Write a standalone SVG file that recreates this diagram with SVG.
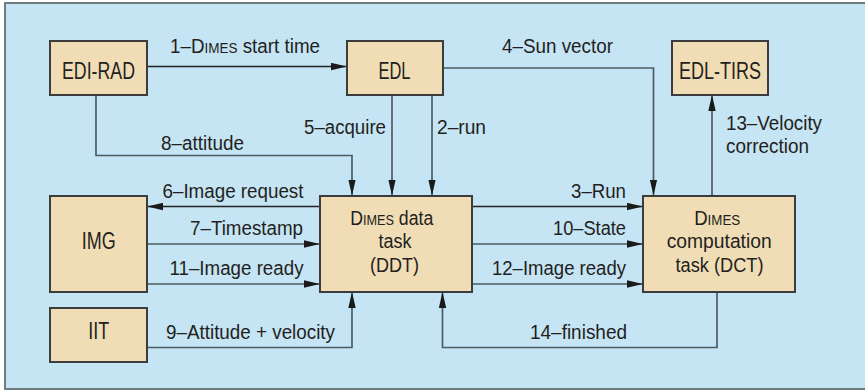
<svg xmlns="http://www.w3.org/2000/svg" width="865" height="392" viewBox="0 0 865 392">
<style>
.bg{fill:#c5e4f4;stroke:#6f7c82;stroke-width:2}
.box{fill:#f0ddb5;stroke:#3c3c3c;stroke-width:2}
.nt{font-family:"Liberation Sans",Arial,sans-serif;font-size:23px;fill:#231f20;text-anchor:middle}
.nm{font-size:19.5px}
.lb{font-family:"Liberation Sans",Arial,sans-serif;font-size:19.5px;fill:#231f20}
.sc{font-size:14px}
.c{fill:none;stroke:#4d5c62;stroke-width:1.7}
.k{stroke:#222}
</style>
<defs>
<marker id="ah" viewBox="0 0 16 8" refX="16" refY="4" markerWidth="16" markerHeight="8" markerUnits="userSpaceOnUse" orient="auto">
<path d="M0,0.3 L16,4 L0,7.7 Z" fill="#1a1a1a"/>
</marker>
</defs>
<rect class="bg" x="5" y="3" width="870" height="386"/>
<g id="connectors">
<path class="c k" d="M147,66.5 H347" marker-end="url(#ah)"/>
<path class="c" d="M443,68 H653.5 V195.5" marker-end="url(#ah)"/>
<path class="c" d="M392,95 V195.5" marker-end="url(#ah)"/>
<path class="c" d="M432,95 V195.5" marker-end="url(#ah)"/>
<path class="c" d="M96,95 V155.5 H352 V195.5" marker-end="url(#ah)"/>
<path class="c" d="M712,195.5 V95" marker-end="url(#ah)"/>
<path class="c k" d="M320,206.5 H147" marker-end="url(#ah)"/>
<path class="c" d="M147,244 H320" marker-end="url(#ah)"/>
<path class="c" d="M147,284 H320" marker-end="url(#ah)"/>
<path class="c" d="M147,347.5 H352 V292" marker-end="url(#ah)"/>
<path class="c k" d="M472,206.5 H643" marker-end="url(#ah)"/>
<path class="c" d="M472,244 H643" marker-end="url(#ah)"/>
<path class="c" d="M472,284 H643" marker-end="url(#ah)"/>
<path class="c" d="M717,292 V347.5 H442.5 V292" marker-end="url(#ah)"/>
<text class="lb" x="170" y="53.3" textLength="150" lengthAdjust="spacingAndGlyphs">1–D<tspan class="sc">IMES</tspan> start time</text>
<text class="lb" x="502" y="53.3" textLength="111" lengthAdjust="spacingAndGlyphs">4–Sun vector</text>
<text class="lb" x="304" y="134" textLength="82" lengthAdjust="spacingAndGlyphs">5–acquire</text>
<text class="lb" x="437" y="134" textLength="49" lengthAdjust="spacingAndGlyphs">2–run</text>
<text class="lb" x="161" y="150" textLength="83" lengthAdjust="spacingAndGlyphs">8–attitude</text>
<text class="lb" x="726" y="130" textLength="96" lengthAdjust="spacingAndGlyphs">13–Velocity</text>
<text class="lb" x="726" y="153" textLength="83" lengthAdjust="spacingAndGlyphs">correction</text>
<text class="lb" x="162.5" y="198" textLength="141" lengthAdjust="spacingAndGlyphs">6–Image request</text>
<text class="lb" x="190" y="235" textLength="113" lengthAdjust="spacingAndGlyphs">7–Timestamp</text>
<text class="lb" x="169.5" y="275" textLength="134" lengthAdjust="spacingAndGlyphs">11–Image ready</text>
<text class="lb" x="166" y="339.3" textLength="169" lengthAdjust="spacingAndGlyphs">9–Attitude + velocity</text>
<text class="lb" x="571" y="198" textLength="55" lengthAdjust="spacingAndGlyphs">3–Run</text>
<text class="lb" x="553" y="235" textLength="73" lengthAdjust="spacingAndGlyphs">10–State</text>
<text class="lb" x="492" y="275" textLength="134" lengthAdjust="spacingAndGlyphs">12–Image ready</text>
<text class="lb" x="530" y="339.3" textLength="97" lengthAdjust="spacingAndGlyphs">14–finished</text>
</g>
<g id="edi-rad"><rect class="box" x="50" y="41" width="97" height="54"/><text class="nt" x="98.5" y="79" textLength="73" lengthAdjust="spacingAndGlyphs">EDI-RAD</text></g>
<g id="edl"><rect class="box" x="347" y="41" width="96" height="54"/><text class="nt" x="394.5" y="79" textLength="32" lengthAdjust="spacingAndGlyphs">EDL</text></g>
<g id="edl-tirs"><rect class="box" x="672" y="41" width="96" height="54"/><text class="nt" x="720" y="79" textLength="82" lengthAdjust="spacingAndGlyphs">EDL-TIRS</text></g>
<g id="img"><rect class="box" x="50" y="196" width="97" height="96"/><text class="nt" x="98.7" y="249" textLength="34" lengthAdjust="spacingAndGlyphs">IMG</text></g>
<g id="iit"><rect class="box" x="50" y="308" width="97" height="54"/><text class="nt" x="98.7" y="339.3" textLength="21" lengthAdjust="spacingAndGlyphs">IIT</text></g>
<g id="ddt"><rect class="box" x="320" y="196" width="152" height="96"/>
<text class="nt nm" x="391.7" y="225" textLength="83" lengthAdjust="spacingAndGlyphs">D<tspan class="sc">IMES</tspan> data</text>
<text class="nt nm" x="395" y="248.3" textLength="33" lengthAdjust="spacingAndGlyphs">task</text>
<text class="nt nm" x="394.5" y="271.5" textLength="49" lengthAdjust="spacingAndGlyphs">(DDT)</text></g>
<g id="dct"><rect class="box" x="643" y="196" width="152" height="96"/>
<text class="nt nm" x="717.2" y="225" textLength="46" lengthAdjust="spacingAndGlyphs">D<tspan class="sc">IMES</tspan></text>
<text class="nt nm" x="719.2" y="248" textLength="105" lengthAdjust="spacingAndGlyphs">computation</text>
<text class="nt nm" x="719.5" y="271.5" textLength="88" lengthAdjust="spacingAndGlyphs">task (DCT)</text></g>
</svg>
